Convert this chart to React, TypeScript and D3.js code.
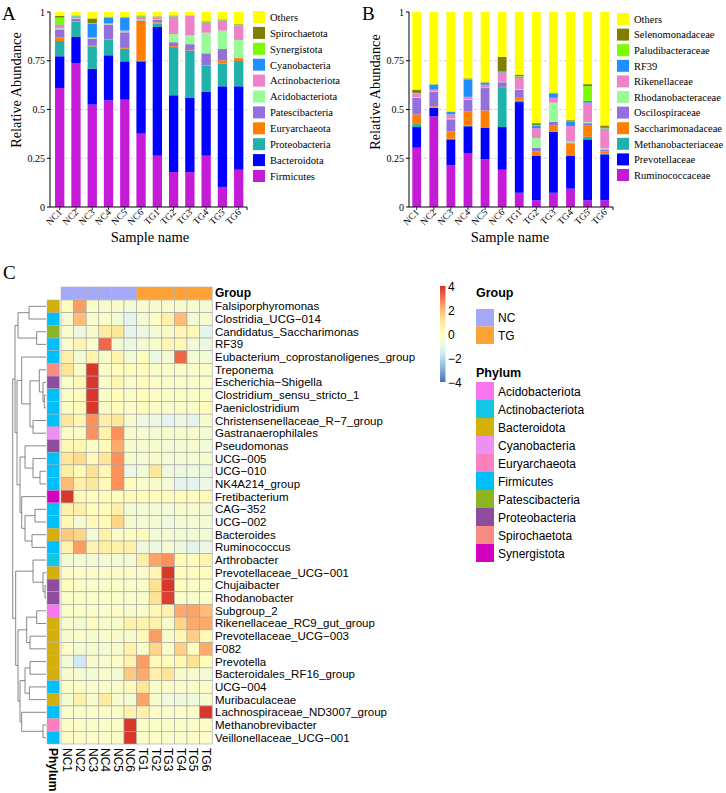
import React from 'react';
import * as d3 from 'd3';

const SERIF = '"Liberation Serif", "Times New Roman", serif';
const SANS = '"Liberation Sans", Arial, sans-serif';

const samples = ['NC1', 'NC2', 'NC3', 'NC4', 'NC5', 'NC6', 'TG1', 'TG2', 'TG3', 'TG4', 'TG5', 'TG6'];
const yTicks = [0, 0.25, 0.5, 0.75, 1];
const gridTicks = [0.25, 0.5, 0.75];

// ---------- Panel A: phylum level ----------
const phylaA = ['Firmicutes', 'Bacteroidota', 'Proteobacteria', 'Euryarchaeota', 'Patescibacteria', 'Acidobacteriota', 'Actinobacteriota', 'Cyanobacteria', 'Synergistota', 'Spirochaetota', 'Others'];
const firmicutesA = [0.61, 0.738, 0.525, 0.547, 0.55, 0.376, 0.263, 0.179, 0.179, 0.263, 0.103, 0.191];
const bacteroidotaA = [0.163, 0.134, 0.184, 0.231, 0.197, 0.371, 0.66, 0.394, 0.38, 0.327, 0.516, 0.428];
const proteobacteriaA = [0.078, 0.078, 0.115, 0.08, 0.065, 0.004, 0.018, 0.247, 0.241, 0.136, 0.116, 0.13];
const euryarchaeotaA = [0.02, 0.002, 0.003, 0.002, 0.004, 0.198, 0.006, 0.005, 0.003, 0.002, 0.017, 0.014];
const patescibacteriaA = [0.04, 0.012, 0.035, 0.075, 0.08, 0.008, 0.012, 0.02, 0.032, 0.06, 0.058, 0.002];
const acidobacteriotaA = [0.005, 0.003, 0.003, 0.002, 0.003, 0.004, 0.003, 0.042, 0.045, 0.106, 0.095, 0.092];
const actinobacteriotaA = [0.015, 0.008, 0.005, 0.005, 0.006, 0.012, 0.01, 0.088, 0.1, 0.05, 0.05, 0.07];
const cyanobacteriaA = [0.005, 0.003, 0.07, 0.03, 0.065, 0.002, 0.002, 0.002, 0.001, 0.002, 0.002, 0.002];
const synergistotaA = [0.035, 0.002, 0.002, 0.002, 0.002, 0.003, 0.002, 0.002, 0.001, 0.002, 0.002, 0.004];
const spirochaetotaA = [0.01, 0.002, 0.025, 0.002, 0.002, 0.004, 0.002, 0.003, 0.001, 0.004, 0.003, 0.004];
const othersA = [0.019, 0.018, 0.033, 0.024, 0.026, 0.018, 0.022, 0.018, 0.017, 0.048, 0.038, 0.063];

// ---------- Panel B: family level ----------
const familiesB = ['Ruminococcaceae', 'Prevotellaceae', 'Methanobacteriaceae', 'Saccharimonadaceae', 'Oscilospiraceae', 'Rhodanobacteraceae', 'Rikenellaceae', 'RF39', 'Paludibacteraceae', 'Selenomonadaceae', 'Others'];
const ruminococcaceaeB = [0.304, 0.465, 0.215, 0.277, 0.245, 0.191, 0.073, 0.034, 0.073, 0.094, 0.034, 0.034];
const prevotellaceaeB = [0.106, 0.043, 0.132, 0.137, 0.162, 0.219, 0.465, 0.228, 0.312, 0.168, 0.313, 0.236];
const methanobacteriaceaeB = [0.015, 0.002, 0.003, 0.003, 0.003, 0.2, 0.008, 0.004, 0.003, 0.004, 0.013, 0.005];
const saccharimonadaceaeB = [0.05, 0.007, 0.038, 0.073, 0.085, 0.006, 0.014, 0.018, 0.032, 0.06, 0.06, 0.01];
const oscilospiraceaeB = [0.086, 0.073, 0.062, 0.06, 0.115, 0.024, 0.04, 0.02, 0.017, 0.004, 0.01, 0.01];
const rhodanobacteraceaeB = [0.003, 0.002, 0.003, 0.002, 0.002, 0.002, 0.003, 0.05, 0.098, 0.005, 0.005, 0.005];
const rikenellaceaeB = [0.015, 0.01, 0.022, 0.013, 0.015, 0.048, 0.06, 0.05, 0.025, 0.08, 0.1, 0.1];
const rf39B = [0.003, 0.026, 0.012, 0.09, 0.01, 0.002, 0.004, 0.013, 0.022, 0.025, 0.01, 0.003];
const paludibacteraceaeB = [0.003, 0.001, 0.001, 0.002, 0.001, 0.002, 0.004, 0.003, 0.001, 0.003, 0.075, 0.003];
const selenomonadaceaeB = [0.017, 0.001, 0.002, 0.003, 0.002, 0.076, 0.008, 0.01, 0.002, 0.004, 0.01, 0.012];
const othersB = [0.398, 0.37, 0.51, 0.34, 0.36, 0.23, 0.321, 0.57, 0.415, 0.553, 0.37, 0.582];

const stackColors = ['#C41CD6', '#0000FF', '#20B2AA', '#FF7F00', '#9370DB', '#98FB98', '#EE82C8', '#1E90FF', '#7CFC00', '#808000', '#FFFF00'];

// ---------- Panel C: heatmap ----------
const genera = [
  'Falsiporphyromonas', 'Clostridia_UCG\u2212014', 'Candidatus_Saccharimonas', 'RF39', 'Eubacterium_coprostanoligenes_group',
  'Treponema', 'Escherichia\u2212Shigella', 'Clostridium_sensu_stricto_1', 'Paeniclostridium', 'Christensenellaceae_R\u22127_group',
  'Gastranaerophilales', 'Pseudomonas', 'UCG\u2212005', 'UCG\u2212010', 'NK4A214_group', 'Fretibacterium', 'CAG\u2212352',
  'UCG\u2212002', 'Bacteroides', 'Ruminococcus', 'Arthrobacter', 'Prevotellaceae_UCG\u2212001', 'Chujaibacter', 'Rhodanobacter',
  'Subgroup_2', 'Rikenellaceae_RC9_gut_group', 'Prevotellaceae_UCG\u2212003', 'F082', 'Prevotella', 'Bacteroidales_RF16_group',
  'UCG\u2212004', 'Muribaculaceae', 'Lachnospiraceae_ND3007_group', 'Methanobrevibacter', 'Veillonellaceae_UCG\u2212001'
];
const generaPhylum = [
  'Bacteroidota', 'Firmicutes', 'Patescibacteria', 'Firmicutes', 'Firmicutes',
  'Spirochaetota', 'Proteobacteria', 'Firmicutes', 'Firmicutes', 'Firmicutes',
  'Cyanobacteria', 'Proteobacteria', 'Firmicutes', 'Firmicutes', 'Firmicutes', 'Synergistota', 'Firmicutes',
  'Firmicutes', 'Bacteroidota', 'Firmicutes', 'Actinobacteriota', 'Bacteroidota', 'Proteobacteria', 'Proteobacteria',
  'Acidobacteriota', 'Bacteroidota', 'Bacteroidota', 'Bacteroidota', 'Bacteroidota', 'Bacteroidota',
  'Firmicutes', 'Bacteroidota', 'Firmicutes', 'Euryarchaeota', 'Firmicutes'
];
const zScores = [
  [0.1, 2.4, -0.2, -0.3, -0.3, -0.5, -0.3, -0.3, -0.3, -0.3, -0.3, -0.5],
  [-0.5, 1.9, -0.3, -0.2, -0.5, -1.1, -0.5, -0.2, 0.6, 1.9, -0.5, -0.3],
  [-0.2, -0.8, -0.3, 0.8, 1.0, -1.1, -0.8, -0.5, -0.3, 0.3, 0.3, -1.1],
  [-0.3, 0.4, -0.3, 3.2, -0.5, -0.8, -0.5, -0.3, 0.3, 0.3, -0.5, -0.8],
  [0.6, -0.5, 0.5, -0.3, 0.5, -0.5, 0.1, -0.8, -0.5, 3.2, -0.5, -0.5],
  [1.1, -0.2, 3.9, -0.2, 0.1, 0.1, 0.1, -0.2, -0.2, -0.2, -0.2, -0.2],
  [-0.2, 0.3, 3.9, -0.2, 0.4, -0.2, 0.1, -0.2, -0.2, -0.2, -0.2, -0.2],
  [-0.2, 0.1, 3.9, -0.2, 0.1, -0.2, 0.1, -0.2, -0.2, -0.2, -0.2, -0.2],
  [-0.2, 0.1, 3.9, -0.2, 0.1, -0.2, 0.1, -0.2, -0.2, -0.2, -0.2, 0.1],
  [1.0, 0.4, 2.6, 0.7, 1.0, -0.3, -0.8, -0.8, -1.1, -0.8, -1.1, -0.3],
  [-0.2, -0.2, 2.6, 0.6, 2.6, -0.3, -0.3, -0.5, -0.3, -0.3, -0.3, -0.5],
  [0.3, 0.3, -0.2, 0.2, 2.2, -0.3, -0.3, -0.3, -0.5, -0.5, -0.3, -0.5],
  [1.0, 1.4, 0.2, 1.0, 2.6, -0.3, -0.5, -0.3, -0.5, -0.5, -0.5, -0.3],
  [0.7, 0.2, 1.2, 0.3, 2.6, -0.8, -0.5, 1.0, -0.7, -0.8, -0.7, -0.8],
  [1.9, 0.6, 1.0, 0.2, 2.6, 0.1, -0.2, -0.3, -0.5, -1.1, -1.1, -0.8],
  [3.9, 0.2, 0.1, 0.1, 0.1, 0.2, 0.1, 0.1, 0.1, 0.1, 0.1, 0.2],
  [0.6, 0.6, 0.1, 0.2, 0.6, -0.5, -0.5, -0.5, -0.5, -0.3, -0.3, -0.5],
  [0.3, -0.5, 0.2, 0.2, 1.5, -0.3, -0.5, -0.5, -0.7, -0.5, -0.5, -0.5],
  [1.7, 1.5, -0.5, 0.6, -0.3, 0.1, 0.1, -0.5, -0.5, -0.5, -0.5, -0.5],
  [0.5, 2.4, 0.5, 0.7, 0.6, 0.6, -0.7, -0.8, -0.5, -0.7, -1.1, -0.8],
  [-0.5, -0.5, -0.5, -0.5, -0.5, -0.5, 0.7, 2.3, 2.6, 0.2, 0.1, 0.5],
  [-0.2, -0.2, -0.2, -0.2, -0.2, -0.2, -0.2, 0.4, 3.9, 0.1, 0.1, 0.1],
  [0.1, -0.2, -0.2, -0.2, -0.2, -0.2, -0.2, 1.2, 3.9, 0.1, -0.2, -0.2],
  [-0.2, -0.2, -0.2, -0.2, -0.2, -0.2, -0.2, 1.2, 3.8, -0.2, -0.2, -0.2],
  [-0.2, -0.2, -0.2, -0.2, -0.2, -0.3, -0.2, 0.3, 0.5, 2.2, 2.3, 1.9],
  [-0.3, -0.5, 0.1, -0.3, -0.3, 0.6, 0.5, 0.6, -0.3, 1.5, 2.2, 2.2],
  [-0.3, -0.2, -0.3, -0.2, -0.3, -0.3, 0.2, 2.4, -0.3, 0.3, 1.6, 0.2],
  [-0.2, -0.5, -0.3, -0.5, -0.3, 0.6, -0.2, 1.5, -0.2, 1.6, 0.1, 2.2],
  [-0.5, -1.6, -0.3, -0.3, -0.2, 0.5, 2.4, 0.2, 0.1, 0.3, 1.2, 0.1],
  [-0.3, -0.5, -0.5, -0.3, -0.5, 1.7, 2.2, 0.6, 1.1, -0.3, -0.3, -0.5],
  [-0.2, -0.2, -0.2, -0.2, -0.2, 0.2, 1.1, -0.2, -0.2, -0.2, -0.2, -0.2],
  [-0.5, 0.6, -0.3, 0.8, -0.3, -0.5, 2.3, -0.3, -0.7, -0.7, -0.7, -0.3],
  [-0.2, -0.2, -0.2, -0.2, -0.2, 0.5, 0.6, -0.2, -0.2, -0.2, -0.2, 3.9],
  [-0.2, -0.2, -0.2, -0.2, -0.2, 3.9, -0.2, -0.2, -0.2, -0.2, -0.2, -0.2],
  [-0.2, -0.2, -0.2, -0.2, -0.2, 3.9, -0.2, -0.2, -0.2, -0.2, -0.2, -0.2]
];
// dendrogram: [mergeHeight, left, right], leaves are row indices
const rowTree: any = [10,
  [9.3,
    [8.4, [5.1, 0, 1], [2.8, 2, 3]],
    [8.7,
      [7.3, 4, [4.8, [2.0, 5, [0.9, 6, [0.5, 7, 8]]], [3.9, 9, 10]]],
      [7.8, [6.3, 11, [3.9, 12, [1.8, 13, 14]]], [7.3, 15, [6.3, [3.3, 16, 17], [4.2, 18, 19]]]]
    ]
  ],
  [9.1,
    [3.9, 20, [0.9, 21, [0.3, 22, 23]]],
    [8.4,
      [5.8, [2.8, 24, 25], [4.8, 26, 27]],
      [7.8, [6.3, [4.8, 28, 29], [5.0, 30, 31]], [7.3, 32, [0.9, 33, 34]]]
    ]
  ]
];

const groupNames = ['NC', 'TG'];
const groupColors = ['#A3A8F8', '#FFA235'];
const phylumLegend = ['Acidobacteriota', 'Actinobacteriota', 'Bacteroidota', 'Cyanobacteria', 'Euryarchaeota', 'Firmicutes', 'Patescibacteria', 'Proteobacteria', 'Spirochaetota', 'Synergistota'];
const phylumColors = ['#F976F0', '#14C6E4', '#D6B00A', '#EE90F2', '#FA80C0', '#00BFFA', '#8CB521', '#8E4C9E', '#F88C84', '#D400C0'];
const heatStops = [-4, -8 / 3, -4 / 3, 0, 4 / 3, 8 / 3, 4];
const heatColors = ['#4575B4', '#91BFDB', '#E0F3F8', '#FFFFBF', '#FEE090', '#FC8D59', '#D73027'];
const legendTicks = [4, 2, 0, -2, -4];

function StackedPanel(props: any) {
  const { keys, seriesArrays, legendLabels, axisX, axisEnd, cx0, cx1, bw, legendX, legendY0, legendStep, letter, letterX, yLabelX, yLabelY, xLabelX } = props;
  const y = d3.scaleLinear().domain([0, 1]).range([207, 12]);
  const x = d3.scalePoint().domain(samples).range([cx0, cx1]);
  const rows = samples.map((s, i) => {
    const o: any = { sample: s };
    keys.forEach((k: string, j: number) => { o[k] = seriesArrays[j][i]; });
    return o;
  });
  const stacked = d3.stack().keys(keys)(rows);
  const legendOrder = keys.map((k: string, i: number) => i).reverse();
  return (
    <g>
      <text x={letterX} y={20} fontFamily={SERIF} fontSize={19}>{letter}</text>
      {gridTicks.map(t => (
        <line key={t} x1={axisX} x2={axisEnd} y1={y(t)} y2={y(t)} stroke="#c8c8c8" strokeWidth={0.8} strokeDasharray="3,2" />
      ))}
      {stacked.map((layer: any, li: number) => (
        <g key={li} fill={stackColors[li]}>
          {layer.map((d: any, si: number) => (
            <rect key={si} x={(x(samples[si]) as number) - bw / 2} width={bw} y={y(d[1])} height={Math.max(0, y(d[0]) - y(d[1]))} />
          ))}
        </g>
      ))}
      <line x1={axisX} x2={axisX} y1={y(1)} y2={y(0)} stroke="#000" strokeWidth={1} />
      <line x1={axisX} x2={axisEnd} y1={y(0)} y2={y(0)} stroke="#000" strokeWidth={1} />
      <line x1={axisEnd} x2={axisEnd} y1={y(0)} y2={y(0) + 3} stroke="#000" strokeWidth={1} />
      {yTicks.map(t => (
        <g key={t}>
          <line x1={axisX - 3} x2={axisX} y1={y(t)} y2={y(t)} stroke="#000" strokeWidth={1} />
          <text x={axisX - 5} y={y(t) + 3.5} textAnchor="end" fontFamily={SERIF} fontSize={10}>{String(t)}</text>
        </g>
      ))}
      {samples.map(s => (
        <g key={s}>
          <line x1={x(s) as number} x2={x(s) as number} y1={y(0)} y2={y(0) + 3} stroke="#000" strokeWidth={0.8} />
          <text transform={`translate(${(x(s) as number) + 3},${y(0) + 6}) rotate(-45)`} textAnchor="end" fontFamily={SERIF} fontSize={9.5}>{s}</text>
        </g>
      ))}
      <text transform={`translate(${yLabelX},${yLabelY}) rotate(-90)`} textAnchor="middle" fontFamily={SERIF} fontSize={14.3} dominantBaseline="central">Relative Abundance</text>
      <text x={xLabelX} y={242} textAnchor="middle" fontFamily={SERIF} fontSize={14.5}>Sample name</text>
      {legendOrder.map((ki: number, i: number) => (
        <g key={ki}>
          <rect x={legendX} y={legendY0 + i * legendStep - 6} width={12} height={12} fill={stackColors[ki]} />
          <text x={legendX + 17} y={legendY0 + i * legendStep + 3.8} fontFamily={SERIF} fontSize={10.5}>{legendLabels[ki]}</text>
        </g>
      ))}
    </g>
  );
}

function Heatmap() {
  const hx = d3.scaleBand().domain(samples).range([61, 212.2]);
  const hy = d3.scaleBand().domain(genera.map((g, i) => String(i))).range([300, 744]);
  const color = d3.scaleLinear<string>().domain(heatStops).range(heatColors).clamp(true);
  const phColor = d3.scaleOrdinal<string, string>().domain(phylumLegend).range(phylumColors);
  const grColor = d3.scaleOrdinal<string, string>().domain(groupNames).range(groupColors);
  const cw = hx.bandwidth();
  const ch = hy.bandwidth();
  const dx = d3.scaleLinear().domain([0, 10]).range([46, 12.7]);
  const segs: string[] = [];
  const layout = (node: any): { y: number; h: number } => {
    if (typeof node === 'number') return { y: (hy(String(node)) as number) + ch / 2, h: 0 };
    const [h, a, b] = node;
    const la = layout(a);
    const lb = layout(b);
    segs.push(`M${dx(la.h)},${la.y}H${dx(h)}V${lb.y}H${dx(lb.h)}`);
    return { y: (la.y + lb.y) / 2, h };
  };
  layout(rowTree);
  const cb = d3.scaleLinear().domain([-4, 4]).range([382, 286]);
  const gradStops = d3.range(0, 1.0001, 0.05);
  return (
    <g>
      <text x={3} y={279} fontFamily={SERIF} fontSize={19}>C</text>
      {samples.map(s => (
        <rect key={s} x={hx(s)} y={287} width={cw} height={12.4} fill={grColor(s.slice(0, 2))} stroke="#b0b0b0" strokeWidth={0.5} />
      ))}
      <text x={215} y={293} fontFamily={SANS} fontSize={12} fontWeight="bold" dominantBaseline="central">Group</text>
      {genera.map((g, i) => (
        <rect key={g} x={47} y={hy(String(i))} width={12.4} height={ch} fill={phColor(generaPhylum[i])} stroke="#b0b0b0" strokeWidth={0.5} />
      ))}
      {zScores.map((row, i) => row.map((v, j) => (
        <rect key={`${i}-${j}`} x={hx(samples[j])} y={hy(String(i))} width={cw} height={ch} fill={color(v)} stroke="#a3a3a3" strokeWidth={0.6} />
      )))}
      {genera.map((g, i) => (
        <text key={g} x={215} y={(hy(String(i)) as number) + ch / 2} fontFamily={SANS} fontSize={11.5} dominantBaseline="central">{g}</text>
      ))}
      {samples.map(s => (
        <text key={s} transform={`translate(${(hx(s) as number) + cw / 2},748) rotate(90)`} fontFamily={SANS} fontSize={12} dominantBaseline="central">{s}</text>
      ))}
      <text transform={`translate(53,748) rotate(90)`} fontFamily={SANS} fontSize={12} fontWeight="bold" dominantBaseline="central">Phylum</text>
      <path d={segs.join('')} fill="none" stroke="#6a6a6a" strokeWidth={0.8} />
      <defs>
        <linearGradient id="hmGrad" x1="0" y1="1" x2="0" y2="0">
          {gradStops.map(t => (
            <stop key={t} offset={t} stopColor={color(-4 + 8 * t)} />
          ))}
        </linearGradient>
      </defs>
      <rect x={440} y={cb(4)} width={5.5} height={cb(-4) - cb(4)} fill="url(#hmGrad)" />
      {legendTicks.map(t => (
        <text key={t} x={448} y={cb(t) + 1} fontFamily={SANS} fontSize={12} dominantBaseline="central">{t < 0 ? `\u2212${-t}` : String(t)}</text>
      ))}
      <text x={476} y={293} fontFamily={SANS} fontSize={12.5} fontWeight="bold" dominantBaseline="central">Group</text>
      {groupNames.map((gname, i) => (
        <g key={gname}>
          <rect x={476} y={309 + i * 17.5} width={18} height={17.5} fill={groupColors[i]} />
          <text x={498} y={309 + i * 17.5 + 9} fontFamily={SANS} fontSize={12} dominantBaseline="central">{gname}</text>
        </g>
      ))}
      <text x={476} y={373} fontFamily={SANS} fontSize={12.5} fontWeight="bold" dominantBaseline="central">Phylum</text>
      {phylumLegend.map((p, i) => (
        <g key={p}>
          <rect x={476} y={382 + i * 18} width={18} height={18} fill={phylumColors[i]} />
          <text x={498} y={382 + i * 18 + 9.5} fontFamily={SANS} fontSize={12} dominantBaseline="central">{p}</text>
        </g>
      ))}
    </g>
  );
}

export default function App() {
  return (
    <svg width={726} height={793} style={{ position: 'absolute', left: 0, top: 0, background: '#fff' }}>
      <rect width={726} height={793} fill="#fff" />
      <StackedPanel
        keys={phylaA}
        legendLabels={phylaA}
        seriesArrays={[firmicutesA, bacteroidotaA, proteobacteriaA, euryarchaeotaA, patescibacteriaA, acidobacteriotaA, actinobacteriotaA, cyanobacteriaA, synergistotaA, spirochaetotaA, othersA]}
        axisX={50} axisEnd={247} cx0={59.7} cx1={238.7} bw={9.3}
        legendX={253} legendY0={17} legendStep={15.9}
        letter="A" letterX={2} yLabelX={15.5} yLabelY={90} xLabelX={150}
      />
      <StackedPanel
        keys={familiesB}
        legendLabels={familiesB}
        seriesArrays={[ruminococcaceaeB, prevotellaceaeB, methanobacteriaceaeB, saccharimonadaceaeB, oscilospiraceaeB, rhodanobacteraceaeB, rikenellaceaeB, rf39B, paludibacteraceaeB, selenomonadaceaeB, othersB]}
        axisX={409} axisEnd={613} cx0={416.7} cx1={604.7} bw={8.8}
        legendX={617} legendY0={19} legendStep={15.6}
        letter="B" letterX={362} yLabelX={374.5} yLabelY={92} xLabelX={510}
      />
      <Heatmap />
    </svg>
  );
}
